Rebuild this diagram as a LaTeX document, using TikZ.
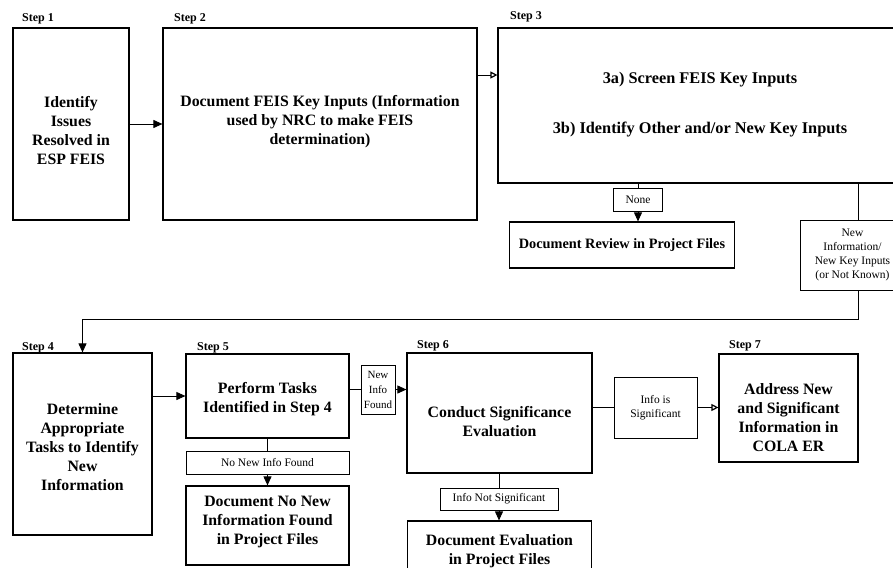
\documentclass[tikz,border=0pt]{standalone}
\usepackage{fontspec}
\setmainfont{Liberation Serif}
\usetikzlibrary{arrows.meta}
\begin{document}
\begin{tikzpicture}[x=1pt,y=-1pt,
  bx/.style={draw, line width=1.2pt, inner sep=0pt},
  tx/.style={font=\bfseries\fontsize{15.8}{19}\selectfont, align=center, inner sep=0pt},
  lab/.style={draw, line width=0.9pt, font=\fontsize{11.5}{14}\selectfont, align=center, inner sep=1pt},
  steplab/.style={font=\bfseries\fontsize{12}{14}\selectfont, anchor=base west, inner sep=0pt},
  conn/.style={line width=0.9pt},
  arr/.style={conn, -{Triangle[length=9pt,width=8pt]}},
  oarr/.style={conn, -{Triangle[open,length=7pt,width=7pt,line width=1.2pt]}}]
\useasboundingbox[fill=white] (0,0) rectangle (893,567);

% ---------- top row
\node[bx, minimum width=116pt, minimum height=192pt] (s1) at (71,124) {};
\node[tx] (s1t) at (71,131) {Identify\\Issues\\Resolved in\\ESP FEIS};
\node[bx, minimum width=314pt, minimum height=192pt] (s2) at (320,124) {};
\node[tx] (s2t) at (320,122) {Document FEIS Key Inputs (Information\\used by NRC to make FEIS\\determination)};
\node[bx, minimum width=404pt, minimum height=155pt] (s3) at (700,105.5) {};
\node[tx, font=\bfseries\fontsize{16.3}{19}\selectfont] (s3t) at (700,105) {3a) Screen FEIS Key Inputs\\[31pt]3b) Identify Other and/or New Key Inputs};
\node[steplab] (l1) at (22,22) {Step 1};
\node[steplab] (l2) at (174,22) {Step 2};
\node[steplab] (l3) at (510,20) {Step 3};

\node[lab, minimum width=49pt, minimum height=23pt] (none) at (638,199.5) {None};
\node[bx, minimum width=225pt, minimum height=46pt] (docrev) at (622,245) {};
\node[tx, font=\bfseries\fontsize{14.3}{17}\selectfont] (docrevt) at (622,245) {Document Review in Project Files};
\node[lab, minimum width=105pt, minimum height=70pt] (newinfo) at (852.5,255) {New\\Information/\\New Key Inputs\\(or Not Known)};
\coordinate (vx) at (858,0);

% ---------- bottom row
\node[bx, minimum width=139pt, minimum height=182pt] (s4) at (82.5,444) {};
\node[tx] (s4t) at (82.5,447) {Determine\\Appropriate\\Tasks to Identify\\New\\Information};
\node[bx, minimum width=163pt, minimum height=84pt] (s5) at (267.5,396) {};
\node[tx] (s5t) at (267.5,399) {Perform Tasks\\Identified in Step 4};
\node[lab, minimum width=163pt, minimum height=23pt] (nonew) at (267.5,462.5) {No New Info Found};
\node[bx, minimum width=163pt, minimum height=79pt] (docnonew) at (267.5,525.5) {};
\node[tx] (docnonewt) at (267.5,522) {Document No New\\Information Found\\in Project Files};
\node[lab, minimum width=34pt, minimum height=49pt, font=\fontsize{11}{15}\selectfont, inner sep=0pt] (newfound) at (378,389.5) {New\\Info\\Found};
\node[bx, minimum width=185pt, minimum height=120pt] (s6) at (499.5,413) {};
\node[tx] (s6t) at (499.5,422) {Conduct Significance\\Evaluation};
\node[lab, minimum width=118pt, minimum height=22pt] (notsig) at (499,499) {Info Not Significant};
\node[bx, minimum width=184pt, minimum height=60pt] (doceval) at (499.5,551) {};
\node[tx] (docevalt) at (499.5,551) {Document Evaluation\\in Project Files};
\node[lab, minimum width=83pt, minimum height=61pt] (infosig) at (655.5,407.5) {Info is\\Significant};
\node[bx, minimum width=139pt, minimum height=108pt] (s7) at (788.5,408) {};
\node[tx] (s7t) at (788.5,418) {Address New\\and Significant\\Information in\\COLA ER};
\node[steplab] (l4) at (22,350) {Step 4};
\node[steplab] (l5) at (197,350) {Step 5};
\node[steplab] (l6) at (417,348) {Step 6};
\node[steplab] (l7) at (729,348) {Step 7};

% ---------- connectors
\draw[arr] (s1.east) -- (s1.east -| s2.west);
\coordinate (a23) at ([yshift=49pt]s2.east);
\draw[oarr] (a23) -- (a23 -| s3.west);
\draw[conn] (s3.south -| none.north) -- (none.north);
\draw[arr] (none.south) -- (none.south |- docrev.north);
\draw[conn] (s3.south -| vx) -- (newinfo.north -| vx);
\coordinate (lp) at (0,319);
\draw[arr] (newinfo.south -| vx) |- (lp -| s4.north) -- (s4.north);
\draw[arr] (s4.east |- s5.west) -- (s5.west);
\draw[conn] (s5.south) -- (nonew.north);
\draw[arr] (nonew.south) -- (docnonew.north);
\draw[conn] (s5.east |- newfound.west) -- (newfound.west);
\draw[arr] (newfound.east) -- (newfound.east -| s6.west);
\draw[conn] (s6.east |- infosig.west) -- (infosig.west);
\draw[oarr] (infosig.east) -- (infosig.east -| s7.west);
\draw[conn] (s6.south -| notsig.north) -- (notsig.north);
\draw[arr] (notsig.south) -- (notsig.south |- doceval.north);
\end{tikzpicture}
\end{document}
